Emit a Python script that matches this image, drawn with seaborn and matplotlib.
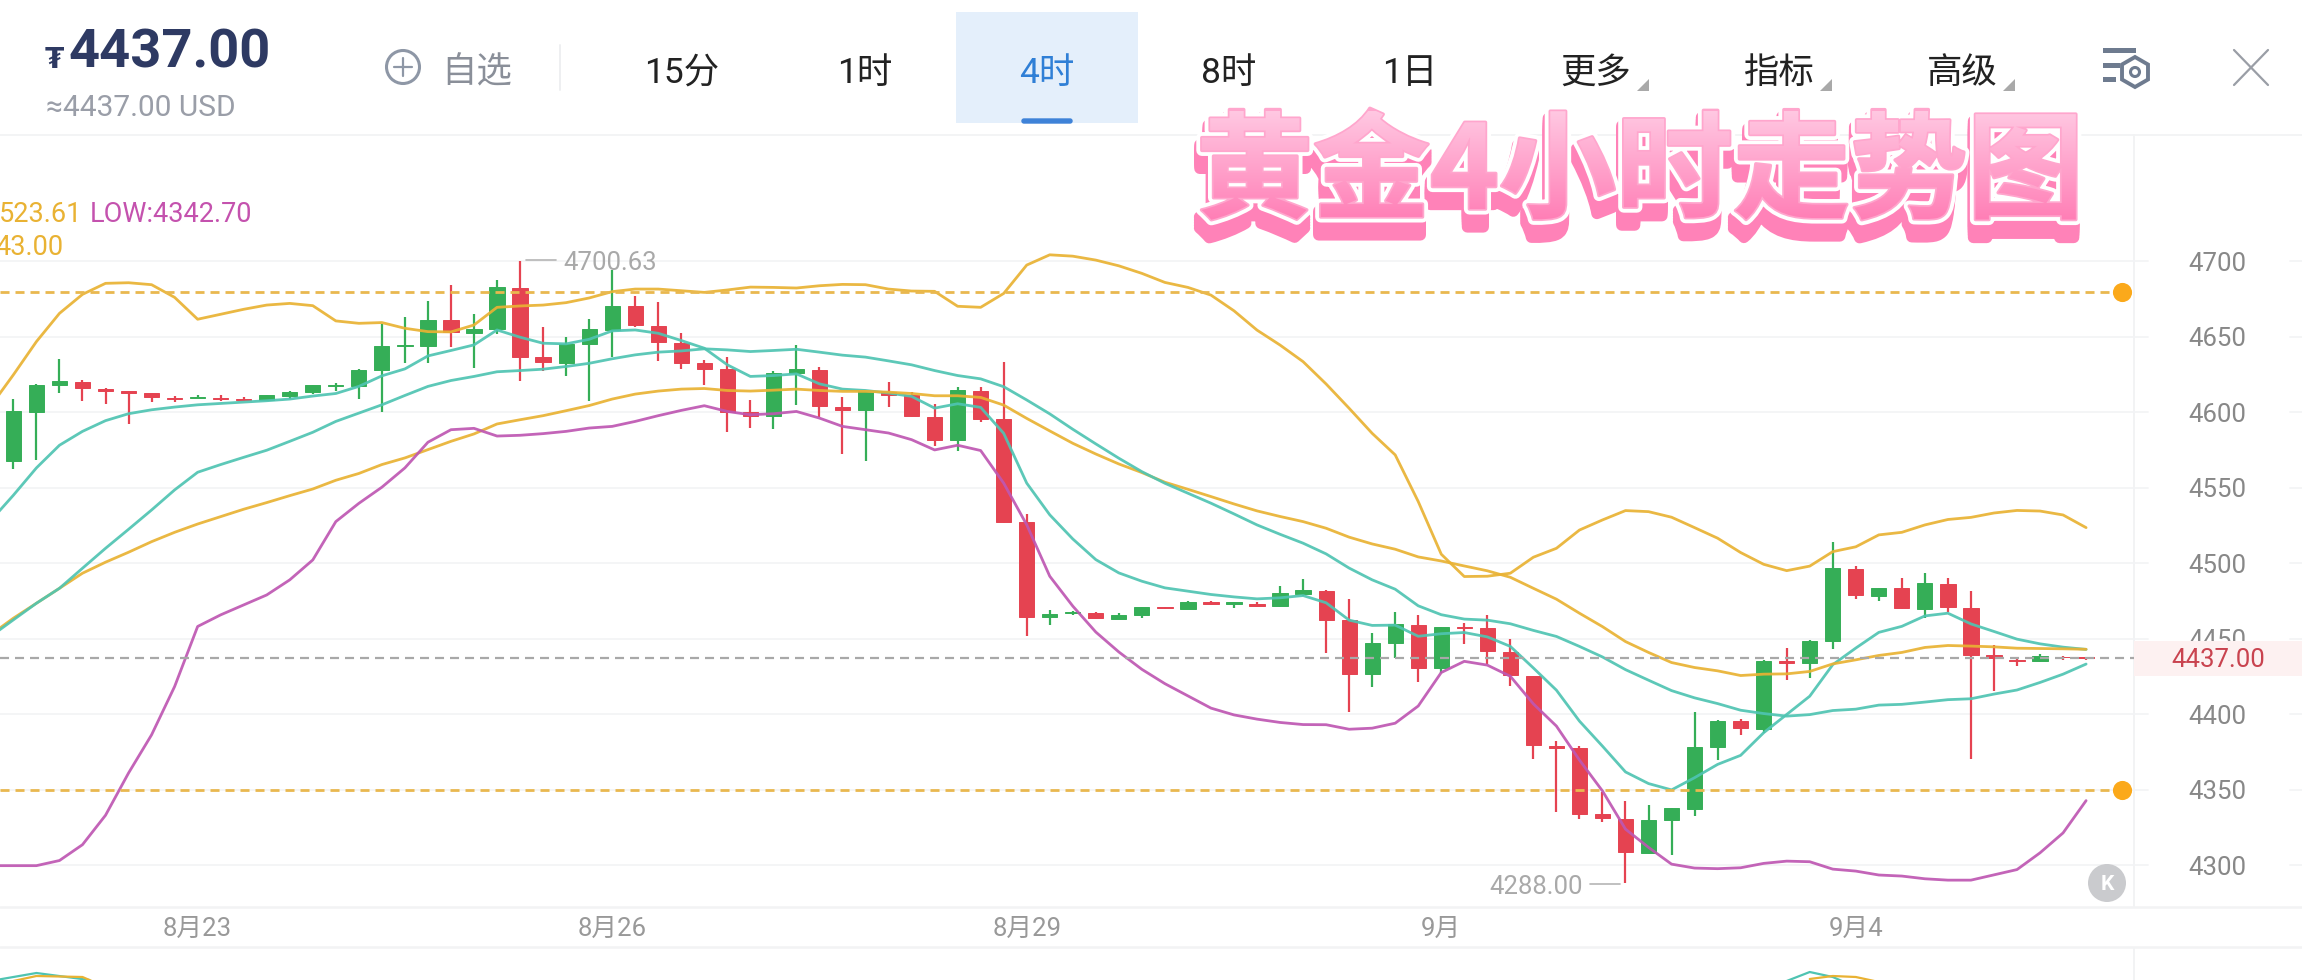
import numpy as np
import pandas as pd
import matplotlib
matplotlib.use('Agg')
import matplotlib.pyplot as plt
import matplotlib.patheffects as pe
from matplotlib.colors import LinearSegmentedColormap
from matplotlib.font_manager import FontProperties
from matplotlib.patches import Circle, Rectangle, Polygon, FancyBboxPatch, RegularPolygon
from matplotlib.textpath import TextPath
from matplotlib.transforms import Affine2D
import seaborn as sns

# 4 hour candles
opens = [4567.6, 4600.2, 4617.8, 4620.2, 4615.6, 4613.9, 4612.5, 4609.5, 4609.7, 4609.7,
         4609.0, 4607.9, 4610.6, 4613.2, 4617.6, 4617.6, 4628.2, 4644.0, 4644.3, 4661.0,
         4652.9, 4655.1, 4682.6, 4636.6, 4633.0, 4645.0, 4654.6, 4670.3, 4657.5, 4646.2,
         4632.8, 4628.4, 4600.0, 4597.3, 4626.0, 4628.2, 4603.7, 4601.3, 4613.2, 4611.4,
         4597.1, 4581.7, 4614.1, 4595.4, 4527.1, 4464.3, 4466.9, 4467.2, 4463.2, 4465.4,
         4470.7, 4470.0, 4474.0, 4473.3, 4473.3, 4471.6, 4479.9, 4481.9, 4462.1, 4426.6,
         4446.9, 4459.4, 4430.4, 4457.7, 4456.8, 4441.2, 4425.1, 4378.8, 4377.3, 4333.7,
         4330.6, 4308.3, 4329.7, 4337.2, 4378.0, 4395.4, 4390.1, 4435.2, 4433.7, 4448.2,
         4496.5, 4478.4, 4483.5, 4470.0, 4486.5, 4470.2, 4439.1, 4436.0, 4434.9, 4438.2,
         4437.6]
closes = [4600.6, 4618.3, 4620.7, 4616.1, 4614.3, 4613.0, 4609.9, 4609.0, 4610.3, 4609.0,
          4608.4, 4611.2, 4613.4, 4617.8, 4618.3, 4628.2, 4644.3, 4644.7, 4661.4, 4653.5,
          4655.5, 4682.8, 4637.0, 4633.5, 4645.4, 4655.1, 4670.5, 4657.7, 4646.9, 4633.0,
          4628.8, 4600.2, 4597.8, 4626.4, 4628.6, 4604.0, 4601.5, 4613.9, 4611.7, 4597.3,
          4581.9, 4614.5, 4595.8, 4527.3, 4464.5, 4466.7, 4467.8, 4463.6, 4465.6, 4470.9,
          4470.2, 4474.4, 4473.3, 4474.0, 4472.0, 4480.4, 4482.4, 4462.3, 4426.8, 4447.3,
          4459.9, 4430.6, 4457.9, 4457.0, 4441.6, 4425.8, 4379.3, 4377.7, 4334.1, 4331.0,
          4308.8, 4329.9, 4337.6, 4378.4, 4395.6, 4390.5, 4435.5, 4433.7, 4448.7, 4496.7,
          4478.9, 4483.5, 4470.2, 4486.8, 4470.7, 4439.3, 4437.1, 4434.9, 4438.7, 4437.8,
          4437.0]
highs = [4608.8, 4618.9, 4635.5, 4621.4, 4616.1, 4613.9, 4612.5, 4611.0, 4611.7, 4611.2,
         4610.3, 4611.7, 4613.9, 4618.3, 4619.6, 4628.6, 4658.6, 4663.0, 4674.0, 4684.6,
         4665.2, 4687.7, 4700.63, 4656.4, 4649.8, 4661.7, 4694.3, 4676.9, 4673.3, 4652.4,
         4634.6, 4636.8, 4608.4, 4627.1, 4644.5, 4630.0, 4610.1, 4614.3, 4620.3, 4613.2,
         4605.3, 4616.5, 4616.5, 4633.3, 4532.8, 4468.7, 4468.3, 4467.8, 4467.2, 4471.3,
         4471.3, 4475.1, 4474.9, 4474.2, 4474.2, 4485.0, 4489.8, 4482.0, 4476.6, 4453.9,
         4467.8, 4465.4, 4458.0, 4460.6, 4465.6, 4450.0, 4425.3, 4382.1, 4378.8, 4348.4,
         4342.5, 4339.8, 4338.0, 4401.5, 4396.0, 4397.1, 4435.7, 4444.1, 4449.3, 4514.3,
         4498.5, 4483.7, 4489.9, 4493.4, 4489.9, 4481.9, 4446.0, 4437.1, 4439.8, 4438.7,
         4438.2]
lows = [4562.5, 4568.3, 4612.8, 4607.3, 4605.5, 4592.5, 4607.0, 4606.6, 4609.2, 4607.3,
        4607.3, 4607.3, 4608.8, 4612.3, 4614.3, 4609.0, 4600.2, 4633.0, 4632.4, 4643.6,
        4629.1, 4651.8, 4621.1, 4627.7, 4623.8, 4607.3, 4636.6, 4656.6, 4633.7, 4628.6,
        4617.8, 4586.8, 4589.6, 4588.7, 4604.6, 4596.9, 4572.4, 4567.6, 4603.3, 4596.7,
        4578.0, 4574.2, 4593.8, 4526.6, 4451.7, 4459.2, 4465.4, 4463.2, 4462.8, 4463.6,
        4469.8, 4469.6, 4472.4, 4470.2, 4471.3, 4471.3, 4478.2, 4440.5, 4401.7, 4417.8,
        4437.4, 4421.3, 4427.5, 4446.2, 4433.0, 4418.5, 4370.3, 4335.2, 4330.4, 4328.2,
        4288.0, 4307.0, 4306.8, 4332.6, 4369.6, 4385.9, 4387.7, 4422.9, 4424.0, 4443.2,
        4476.2, 4474.7, 4469.8, 4463.6, 4467.8, 4370.3, 4415.1, 4432.1, 4434.7, 4436.0,
        4435.6]

# bands, first value is the candle just left of the window
band_high = [4603.9, 4624.9, 4646.9, 4665.6, 4678.2, 4685.5, 4685.9, 4684.6, 4676.2, 4661.7,
             4665.0, 4668.3, 4671.1, 4672.2, 4670.7, 4660.6, 4659.0, 4659.5, 4655.7, 4653.5,
             4653.3, 4657.9, 4669.6, 4670.5, 4671.1, 4672.7, 4675.8, 4680.0, 4681.7, 4681.7,
             4680.6, 4679.5, 4681.1, 4683.0, 4682.8, 4682.4, 4683.9, 4684.8, 4684.6, 4681.7,
             4680.4, 4680.2, 4670.3, 4669.6, 4678.8, 4697.6, 4704.4, 4703.5, 4700.9, 4697.1,
             4692.1, 4686.1, 4682.8, 4677.7, 4667.3, 4654.5, 4644.6, 4633.6, 4618.8, 4602.7,
             4586.1, 4571.8, 4540.9, 4506.0, 4491.2, 4491.4, 4493.4, 4504.0, 4509.9, 4522.0,
             4528.7, 4534.9, 4534.2, 4530.5, 4523.6, 4516.6, 4507.1, 4499.3, 4495.1, 4498.1,
             4507.7, 4510.9, 4518.8, 4520.5, 4525.4, 4529.0, 4530.4, 4533.3, 4535.0, 4534.6,
             4532.0, 4523.61]
band_inner = [4528.0, 4545.1, 4563.2, 4578.2, 4587.4, 4594.5, 4599.1, 4601.7, 4603.5, 4605.0,
              4605.9, 4606.8, 4607.7, 4608.8, 4610.8, 4612.5, 4617.2, 4624.2, 4628.8, 4637.4,
              4641.0, 4644.7, 4654.6, 4649.8, 4645.8, 4645.4, 4648.4, 4654.0, 4654.6, 4652.4,
              4647.6, 4642.5, 4631.5, 4623.8, 4624.4, 4625.5, 4618.9, 4615.4, 4614.5, 4612.8,
              4610.6, 4602.8, 4605.7, 4603.3, 4586.1, 4553.1, 4532.1, 4516.1, 4502.4, 4493.6,
              4488.1, 4483.7, 4481.5, 4479.3, 4477.7, 4476.4, 4477.1, 4478.6, 4473.8, 4462.3,
              4458.8, 4459.0, 4451.6, 4453.3, 4454.1, 4451.2, 4444.9, 4430.6, 4415.9, 4395.4,
              4378.8, 4361.7, 4354.0, 4349.8, 4357.9, 4366.7, 4372.7, 4387.7, 4399.8, 4411.9,
              4432.8, 4443.8, 4454.2, 4458.2, 4465.1, 4466.9, 4459.8, 4454.8, 4449.7, 4446.6,
              4444.4, 4442.9]
band_mid = [4452.5, 4463.6, 4473.5, 4483.4, 4493.4, 4500.7, 4507.3, 4514.3, 4520.5, 4526.0,
            4530.9, 4535.8, 4540.2, 4544.8, 4549.2, 4555.0, 4559.5, 4565.4, 4569.8, 4575.3,
            4580.8, 4585.7, 4592.3, 4595.1, 4597.8, 4601.1, 4604.5, 4608.8, 4612.1, 4614.1,
            4615.4, 4615.8, 4614.5, 4614.1, 4614.7, 4615.4, 4614.5, 4613.9, 4613.9, 4613.4,
            4612.5, 4611.0, 4611.0, 4609.9, 4604.8, 4596.0, 4587.7, 4579.5, 4572.4, 4565.8,
            4560.1, 4553.7, 4549.0, 4544.2, 4539.3, 4534.7, 4531.0, 4527.6, 4523.2, 4517.3,
            4512.8, 4509.3, 4504.2, 4501.5, 4498.2, 4495.0, 4490.7, 4483.4, 4476.2, 4466.9,
            4458.0, 4448.1, 4440.9, 4434.2, 4430.9, 4428.7, 4425.6, 4426.5, 4426.7, 4428.3,
            4433.3, 4436.0, 4438.9, 4440.9, 4444.2, 4445.5, 4445.1, 4444.6, 4443.7, 4443.5,
            4443.3, 4443.0]
band_outer = [4451.4, 4462.5, 4473.5, 4483.4, 4496.7, 4509.9, 4522.5, 4535.3, 4548.6, 4560.3,
              4565.4, 4570.2, 4574.9, 4580.8, 4586.8, 4594.0, 4599.5, 4605.0, 4611.2, 4617.2,
              4621.1, 4623.8, 4626.9, 4627.7, 4628.6, 4630.4, 4632.5, 4635.5, 4638.1, 4639.9,
              4640.7, 4642.1, 4641.4, 4640.3, 4641.0, 4641.8, 4639.9, 4637.9, 4636.6, 4634.1,
              4631.5, 4627.7, 4624.4, 4622.2, 4617.0, 4608.2, 4599.0, 4588.8, 4579.1, 4569.6,
              4560.7, 4553.0, 4546.4, 4539.8, 4532.7, 4525.4, 4519.2, 4513.3, 4506.2, 4496.8,
              4489.0, 4482.8, 4471.8, 4465.9, 4463.0, 4462.3, 4459.9, 4455.5, 4451.5, 4444.9,
              4437.9, 4429.5, 4422.5, 4415.6, 4410.8, 4407.0, 4402.6, 4400.4, 4398.7, 4399.7,
              4402.4, 4403.3, 4406.0, 4406.5, 4408.0, 4409.6, 4410.2, 4413.3, 4416.0, 4421.0,
              4426.5, 4433.2]
band_low = [4299.6, 4299.6, 4299.6, 4303.0, 4313.5, 4333.0, 4361.0, 4386.3, 4418.3, 4458.1,
            4465.8, 4472.4, 4479.0, 4489.0, 4502.2, 4527.6, 4539.7, 4550.4, 4563.2, 4580.2,
            4588.5, 4589.4, 4584.3, 4584.8, 4585.9, 4587.4, 4589.6, 4590.7, 4594.0, 4597.8,
            4601.3, 4604.4, 4600.6, 4598.4, 4599.1, 4600.6, 4596.2, 4590.7, 4588.5, 4586.3,
            4581.9, 4575.1, 4578.2, 4574.7, 4553.1, 4525.5, 4491.4, 4471.6, 4454.4, 4441.2,
            4429.7, 4420.2, 4412.1, 4404.0, 4399.5, 4396.7, 4394.5, 4393.1, 4393.0, 4390.0,
            4390.7, 4394.0, 4405.4, 4427.6, 4435.0, 4432.5, 4425.1, 4406.8, 4392.1, 4369.6,
            4349.1, 4323.8, 4311.7, 4300.6, 4298.0, 4297.6, 4298.2, 4301.1, 4302.6, 4302.2,
            4297.3, 4296.0, 4293.4, 4292.7, 4290.9, 4290.0, 4290.0, 4293.5, 4297.0, 4308.1,
            4321.3, 4342.7]

# clipped sub indicator below the x axis
sub_teal_a = [-1, 7, 0]
sub_teal_a_x = [-1, 1, 3.3]
sub_gold_a = [-1, 4, 3, -1]
sub_gold_a_x = [0, 1, 3, 3.4]
sub_teal_b = [-1, 8, 3, -1]
sub_teal_b_x = [77, 78, 79, 79.4]
sub_gold_b = [1, 4, 3, -1]
sub_gold_b_x = [78, 79, 80, 80.8]

y_ticks = [4700, 4650, 4600, 4550, 4500, 4450, 4400, 4350, 4300]
x_tick_pos = [8, 26, 44, 62, 80]
x_tick_labels = ['8月23', '8月26', '8月29', '9月', '9月4']
tabs = ['15分', '1时', '4时', '8时', '1日', '更多', '指标', '高级']
price = 4437.00
support = 4350
resistance = 4680

W, H = 2302, 980
GREEN, RED = '#35AE57', '#E54351'
GOLD, TEAL, PINK = '#E9B233', '#4FC4B2', '#BE57B2'

sns.set_theme(style='white')
plt.rcParams['font.family'] = ['Roboto', 'Noto Sans CJK SC', 'DejaVu Sans']
plt.rcParams['lines.scale_dashes'] = False

fig = plt.figure(figsize=(W / 100, H / 100), dpi=100, facecolor='white')


def px_axes(left, top, right, bottom):
    return fig.add_axes([left / W, 1 - bottom / H, (right - left) / W, (bottom - top) / H])


ax = px_axes(0, 135, 2134, 907)
ax.set_xlim(-0.582, 92.08)
ax.set_ylim(4272.2, 4783.8)

# candles
candles = pd.DataFrame({'open': opens, 'close': closes, 'high': highs, 'low': lows})
candles['idx'] = candles.index
candles['color'] = np.where(candles['close'] >= candles['open'], GREEN, RED)
ax.vlines(candles['idx'], candles['low'], candles['high'], colors=candles['color'], lw=1.6, zorder=2)
ax.bar(candles['idx'], (candles['close'] - candles['open']).abs(),
       bottom=candles[['open', 'close']].min(axis=1), width=0.66,
       color=candles['color'], edgecolor=candles['color'], linewidth=0.7, zorder=2.5)

# bands
band_x = np.arange(-1, 91)
bands = pd.concat([
    pd.DataFrame({'idx': band_x, 'price': vals, 'band': name})
    for name, vals in [('high', band_high), ('inner', band_inner), ('mid', band_mid),
                       ('outer', band_outer), ('low', band_low)]
])
sns.lineplot(data=bands, x='idx', y='price', hue='band', errorbar=None, legend=False, ax=ax,
             palette={'high': GOLD, 'mid': GOLD, 'inner': TEAL, 'outer': TEAL, 'low': PINK},
             linewidth=2.0, alpha=0.92, zorder=3)

# dashed price lines
dash = (0, (6.5, 4.3))
ax.hlines([resistance, support], -0.582, 91.56, colors='#E9B84F', lw=2.0, linestyles=[dash], zorder=4)
ax.axhline(price, color='#A8A8A8', lw=1.6, linestyle=dash, zorder=4)
ax.scatter([91.56, 91.56], [resistance, support], s=190, color='#FBA91B', zorder=5,
           linewidths=0, clip_on=False)

ax.set_xlabel('')
ax.set_ylabel('')
ax.set_xticks(x_tick_pos, x_tick_labels)
ax.yaxis.tick_right()
ax.set_yticks(y_ticks)
ax.set_yticklabels([str(t) for t in y_ticks])
ax.tick_params(axis='y', length=0, pad=39, labelsize=18.5, labelcolor='#888888')
ax.tick_params(axis='x', length=0, pad=7, labelsize=18.5, labelcolor='#999999')
ax.grid(axis='y', color='#F3F4F6', lw=1.3, zorder=0)
ax.grid(axis='x', visible=False)
for side in ['top', 'left', 'bottom']:
    ax.spines[side].set_visible(False)
ax.spines['right'].set_color('#F2F3F4')
ax.spines['right'].set_linewidth(1.4)
ax.set_facecolor('none')

# stub of the next panel
sub = px_axes(0, 948, 2134, 980)
sub.set_xlim(ax.get_xlim())
sub.set_ylim(0, 32)
for xs, vals, c in [(sub_teal_a_x, sub_teal_a, TEAL), (sub_gold_a_x, sub_gold_a, GOLD),
                    (sub_teal_b_x, sub_teal_b, TEAL), (sub_gold_b_x, sub_gold_b, GOLD)]:
    sns.lineplot(x=xs, y=vals, color=c, lw=1.6, errorbar=None, ax=sub)
sub.set_xticks([])
sub.set_yticks([])
sub.set_xlabel('')
sub.set_ylabel('')
for side in ['top', 'left', 'bottom']:
    sub.spines[side].set_visible(False)
sub.spines['right'].set_color('#F2F3F4')
sub.spines['right'].set_linewidth(1.4)
sub.set_facecolor('none')

# everything that is app chrome, in pixels
ui = fig.add_axes([0, 0, 1, 1], zorder=10)
ui.set_xlim(0, W)
ui.set_ylim(H, 0)
ui.axis('off')
ui.patch.set_alpha(0)

for yy, lw in [(135, 1.3), (907, 1.8), (947, 1.8)]:
    ui.plot([0, W], [yy, yy], color='#F2F3F4', lw=lw)
for tick_y in [261.5, 337, 412.3, 488, 563, 639, 714, 790, 865]:
    ui.plot([2134, 2148], [tick_y, tick_y], color='#F3F4F6', lw=1.3)
    ui.plot([2290, W], [tick_y, tick_y], color='#F3F4F6', lw=1.3)

# header price
ui.text(45, 60, '₮', fontsize=20, fontweight='bold', color='#2E3A63', ha='left', va='center',
        family=['DejaVu Sans'])
ui.text(69, 53, '4437.00', fontsize=39, fontweight='bold', color='#2E3A63', ha='left', va='center')
ui.text(46, 108, '≈4437.00 USD', fontsize=21.5, color='#9A9EA8', ha='left', va='center')

# watchlist button
ui.add_patch(Circle((403, 67), 16.5, fill=False, ec='#8E97A6', lw=2.2))
ui.plot([394, 412], [67, 67], color='#8E97A6', lw=1.6)
ui.plot([403, 403], [58, 76], color='#8E97A6', lw=1.6)
ui.text(477, 73, '自选', fontsize=25.5, color='#8A8F99', ha='center', va='center')
ui.plot([560, 560], [45, 90], color='#EEEFF1', lw=1.4)

# tabs
ui.add_patch(Rectangle((956, 12), 182, 111, fc='#E4EFFB', ec='none'))
ui.add_patch(FancyBboxPatch((1022, 119), 50, 4, boxstyle='round,pad=0,rounding_size=2',
                            fc='#3E82D8', ec='#3E82D8', lw=1))
tab_x = [682, 865, 1047, 1229, 1410, 1596, 1779, 1962]
for name, tx in zip(tabs, tab_x):
    ui.text(tx, 73, name, fontsize=25.5, ha='center', va='center',
            color='#2F7FD6' if name == '4时' else '#222222')
for tx in [1644, 1827, 2010]:
    ui.add_patch(Polygon([(tx - 7, 91), (tx + 5, 91), (tx + 5, 79)], fc='#A9A9A9', ec='none'))

# settings icon and close cross
for top, right in [(48, 2136), (63, 2120), (77, 2116)]:
    ui.add_patch(Rectangle((2103, top), right - 2103, 5.5, fc='#6E7B8F', ec='none'))
ui.add_patch(RegularPolygon((2135, 72), 6, radius=15, fill=False, ec='#6E7B8F', lw=2.8))
ui.add_patch(Circle((2135, 72), 4.5, fill=False, ec='#6E7B8F', lw=2.2))
ui.plot([2234, 2268], [50, 85], color='#9A9EA6', lw=1.6)
ui.plot([2268, 2234], [50, 85], color='#9A9EA6', lw=1.6)

# band readout, only the part the window shows
ui.text(82, 214, '523.61', fontsize=19.5, color=GOLD, ha='right', va='center')
ui.text(90, 214, 'LOW:4342.70', fontsize=19.5, color='#C452AE', ha='left', va='center')
ui.text(63, 247, '43.00', fontsize=19.5, color=GOLD, ha='right', va='center')

# high and low marks
ui.plot([526, 556], [260, 260], color='#B5B5B5', lw=1.2)
ui.text(563, 263, '4700.63', fontsize=18.5, color='#A9A9A9', ha='left', va='center')
ui.plot([1590, 1620], [884, 884], color='#B5B5B5', lw=1.2)
ui.text(1583, 887, '4288.00', fontsize=18.5, color='#A9A9A9', ha='right', va='center')

# last price tag and jump button
ui.add_patch(Rectangle((2134, 641), W - 2134, 35, fc='#FDF1F1', ec='none'))
ui.text(2218, 660, '4437.00', fontsize=18.5, color='#C9434F', ha='center', va='center')
ui.add_patch(Circle((2107, 883), 19, fc='#CACBCE', ec='none'))
ui.text(2107, 884, 'K', fontsize=15, fontweight='bold', color='white', ha='center', va='center')

# pink sticker title, one text with its outline and shadow as path effects
title = '黄金4小时走势图'
title_x, title_y, title_px = 1196, 209, 117
title_font = FontProperties(family='Noto Sans CJK SC', weight='bold')
shadow = [pe.Stroke(linewidth=8, foreground='#FF82B8', offset=(-1.5, -d), joinstyle='round')
          for d in (13, 11, 9, 7, 5)]
ui.text(title_x, title_y, title, fontproperties=title_font, fontsize=title_px * 0.72,
        color='#FFA6CD',
        path_effects=shadow + [pe.Stroke(linewidth=8, foreground='white', joinstyle='round'),
                               pe.Stroke(linewidth=2.5, foreground='#FFA6CD', joinstyle='round'),
                               pe.Normal()])
title_path = TextPath((0, 0), title, size=title_px, prop=title_font)
title_tf = Affine2D().scale(1, -1).translate(title_x, title_y) + ui.transData
grad = LinearSegmentedColormap.from_list('sticker', ['#FFC8E2', '#FF7DB5'])
im = ui.imshow(np.linspace(0, 1, 256)[:, None], cmap=grad, extent=(1180, 2100, 222, 112),
               aspect='auto', origin='upper', zorder=6)
im.set_clip_path(title_path, title_tf)
ui.set_xlim(0, W)
ui.set_ylim(H, 0)

fig.savefig('out.png', dpi=100, facecolor='white')
